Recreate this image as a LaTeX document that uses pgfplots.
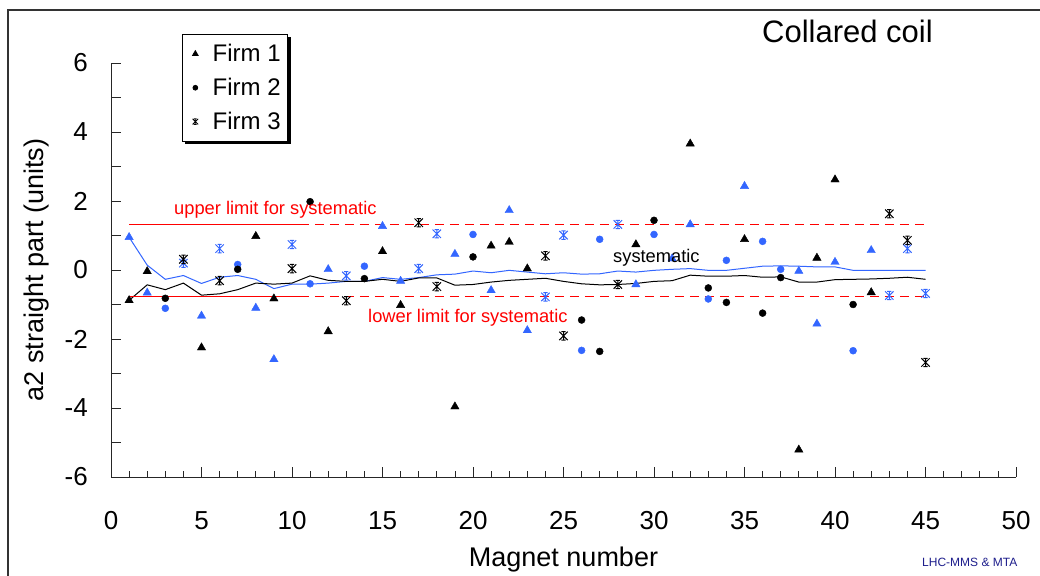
\documentclass[border=0pt]{standalone}
\usepackage{fontspec}
\setmainfont{Liberation Sans}
\usepackage{pgfplots}
\pgfplotsset{compat=1.18}
\usetikzlibrary{shadows}
\definecolor{xlblue}{RGB}{51,102,255}
\definecolor{xlred}{RGB}{255,0,0}
\definecolor{xlnavy}{RGB}{30,30,140}
\pgfdeclareplotmark{xlstar}{%
  \pgfpathmoveto{\pgfqpoint{-\pgfplotmarksize}{-\pgfplotmarksize}}%
  \pgfpathlineto{\pgfqpoint{\pgfplotmarksize}{\pgfplotmarksize}}%
  \pgfpathmoveto{\pgfqpoint{-\pgfplotmarksize}{\pgfplotmarksize}}%
  \pgfpathlineto{\pgfqpoint{\pgfplotmarksize}{-\pgfplotmarksize}}%
  \pgfpathmoveto{\pgfqpoint{0pt}{-\pgfplotmarksize}}%
  \pgfpathlineto{\pgfqpoint{0pt}{\pgfplotmarksize}}%
  \pgfpathmoveto{\pgfqpoint{-0.5\pgfplotmarksize}{\pgfplotmarksize}}%
  \pgfpathlineto{\pgfqpoint{0.5\pgfplotmarksize}{\pgfplotmarksize}}%
  \pgfpathmoveto{\pgfqpoint{-0.5\pgfplotmarksize}{-\pgfplotmarksize}}%
  \pgfpathlineto{\pgfqpoint{0.5\pgfplotmarksize}{-\pgfplotmarksize}}%
  \pgfusepathqstroke
}
\begin{document}
\begin{tikzpicture}
\path[use as bounding box, fill=white] (0,0) rectangle (1040pt,575pt);
\begin{axis}[
  scale only axis, width=905pt, height=414pt,
  at={(111pt,98pt)}, anchor=south west,
  xmin=0, xmax=50, ymin=-6, ymax=6,
  axis x line=bottom, axis y line=left,
  axis line style={-, line width=1pt, black!85},
  xtick={0,5,...,50}, minor xtick={1,...,49},
  ytick={-6,...,6}, yticklabels={-6,,-4,,-2,,0,,2,,4,,6},
  tick align=inside, major tick length=10pt, minor tick length=6pt,
  tick style={line width=0.8pt, black!85},
  /pgf/number format/assume math mode=true,
  ticklabel style={font=\fontsize{26}{30}\selectfont},
  xticklabel style={anchor=north, inner sep=0pt, yshift=-34pt},
  yticklabel style={anchor=east, inner sep=0pt, xshift=-23pt},
  xlabel={Magnet number},
  ylabel={a2 straight part (units)},
  label style={font=\fontsize{27}{32}\selectfont},
  xlabel style={at={(axis description cs:0.5,-0.215)}, anchor=base},
  ylabel style={at={(axis description cs:-0.0751,0.5)}, anchor=base},
  clip=false,
  legend cell align=left,
  legend image code/.code={%
    \path (-8.5pt,0pt) (14pt,0pt);
    \draw[#1] plot coordinates {(0pt,0pt)};},
  legend style={at={(rel axis cs:0.0785,1.0700)}, anchor=north west,
    draw=black, line width=0.8pt, fill=white,
    drop shadow={shadow xshift=3pt, shadow yshift=-3pt, opacity=1, fill=black},
    font=\fontsize{24}{28}\selectfont, inner xsep=4pt, inner ysep=8pt, row sep=11pt,
    nodes={inner xsep=3pt}},
]
% systematic lines
\addplot[forget plot, xlblue, line width=1pt, mark=none] coordinates {
(1,0.95) (2,0.14) (3,-0.27) (4,-0.16) (5,-0.39) (6,-0.21) (7,-0.16) (8,-0.27) (9,-0.54) (10,-0.41)
(11,-0.41) (12,-0.38) (13,-0.33) (14,-0.33) (15,-0.22) (16,-0.27) (17,-0.22) (18,-0.14) (19,-0.12) (20,-0.03)
(21,-0.08) (22,-0.01) (23,-0.06) (24,-0.11) (25,-0.08) (26,-0.12) (27,-0.11) (28,-0.03) (29,-0.06) (30,-0.01)
(31,0.02) (32,0.04) (33,-0.01) (34,-0.01) (35,0.05) (36,0.11) (37,0.12) (38,0.11) (39,0.09) (40,0.09)
(41,-0.01) (42,-0.01) (43,-0.01) (44,-0.01) (45,-0.01)};
\addplot[forget plot, black, line width=1pt, mark=none] coordinates {
(1,-0.88) (2,-0.43) (3,-0.57) (4,-0.38) (5,-0.73) (6,-0.69) (7,-0.57) (8,-0.38) (9,-0.41) (10,-0.38)
(11,-0.17) (12,-0.30) (13,-0.33) (14,-0.33) (15,-0.27) (16,-0.33) (17,-0.23) (18,-0.23) (19,-0.44) (20,-0.42)
(21,-0.35) (22,-0.30) (23,-0.27) (24,-0.24) (25,-0.33) (26,-0.40) (27,-0.43) (28,-0.42) (29,-0.39) (30,-0.33)
(31,-0.31) (32,-0.15) (33,-0.18) (34,-0.18) (35,-0.16) (36,-0.21) (37,-0.20) (38,-0.35) (39,-0.35) (40,-0.28)
(41,-0.27) (42,-0.26) (43,-0.24) (44,-0.21) (45,-0.27)};
% limits
\addplot[forget plot, draw=xlred, line width=1.3pt, mark=none] coordinates {(1,1.32) (10.44,1.32)};
\addplot[forget plot, draw=xlred, line width=1.3pt, mark=none, dash pattern=on 9pt off 6pt] coordinates {(10.44,1.32) (45,1.32)};
\addplot[forget plot, draw=xlred, line width=1.3pt, mark=none] coordinates {(1,-0.76) (10.44,-0.76)};
\addplot[forget plot, draw=xlred, line width=1.3pt, mark=none, dash pattern=on 9pt off 6pt] coordinates {(10.44,-0.76) (45,-0.76)};
% blue series
\addplot[forget plot, only marks, mark=triangle*, mark size=4.8, xlblue] coordinates {
(1,0.95) (2,-0.66) (5,-1.33) (8,-1.10) (9,-2.59) (12,0.02) (15,1.27) (16,-0.32) (19,0.46) (21,-0.59)
(22,1.73) (23,-1.75) (29,-0.42) (31,0.33) (32,1.32) (35,2.43) (38,-0.03) (39,-1.56) (40,0.23) (42,0.57)};
\addplot[forget plot, only marks, mark=*, mark size=3.5, xlblue] coordinates {
(3,-1.11) (7,0.16) (11,-0.40) (14,0.11) (20,1.03) (26,-2.33) (27,0.89) (30,1.03) (33,-0.84) (34,0.28)
(36,0.83) (37,0.02) (41,-2.34)};
\addplot[forget plot, only marks, mark=xlstar, mark size=4.2, line width=1pt, xlblue] coordinates {
(4,0.20) (6,0.62) (10,0.74) (13,-0.17) (17,0.04) (18,1.05) (24,-0.78) (25,1.01) (28,1.32) (43,-0.74)
(44,0.62) (45,-0.68)};
% black series
\addplot[forget plot, only marks, mark=triangle*, mark size=4.8, black] coordinates {
(1,-0.88) (2,-0.04) (5,-2.25) (8,0.98) (9,-0.83) (12,-1.78) (15,0.54) (16,-1.02) (19,-3.96) (21,0.70)
(22,0.81) (23,0.04) (29,0.74) (32,3.66) (35,0.89) (38,-5.21) (39,0.35) (40,2.62) (42,-0.65)};
\addplot[forget plot, only marks, mark=*, mark size=3.5, black] coordinates {
(3,-0.82) (7,0.02) (11,1.98) (14,-0.25) (20,0.38) (26,-1.45) (27,-2.36) (30,1.44) (33,-0.52) (34,-0.94)
(36,-1.25) (37,-0.22) (41,-1.00)};
\addplot[forget plot, only marks, mark=xlstar, mark size=4.2, line width=1pt, black] coordinates {
(4,0.31) (6,-0.31) (10,0.04) (13,-0.89) (17,1.37) (18,-0.48) (24,0.41) (25,-1.91) (28,-0.42) (43,1.63)
(44,0.86) (45,-2.68)};
\addlegendimage{only marks, mark=triangle*, mark size=3.2, black}
\addlegendentry{Firm 1}
\addlegendimage{only marks, mark=*, mark size=2.4, black}
\addlegendentry{Firm 2}
\addlegendimage{only marks, mark=xlstar, mark size=2.8, line width=0.8pt, black}
\addlegendentry{Firm 3}
\end{axis}
\draw[line width=1.3pt, black!80] (8pt,-20pt) -- (8pt,565pt) -- (1060pt,565pt);
\node[anchor=base west, inner sep=0pt, text=xlred, font=\fontsize{18.3}{22}\selectfont] at (174pt,360pt) {upper limit for systematic};
\node[anchor=base west, inner sep=0pt, text=xlred, font=\fontsize{18.3}{22}\selectfont] at (368pt,252pt) {lower limit for systematic};
\node[anchor=base west, inner sep=0pt, font=\fontsize{18.3}{22}\selectfont] at (613pt,312pt) {systematic};
\node[anchor=base west, inner sep=0pt, font=\fontsize{31}{36}\selectfont] at (762pt,532.5pt) {Collared coil};
\node[anchor=base west, inner sep=0pt, text=xlnavy, font=\fontsize{12}{14}\selectfont] at (922pt,9pt) {LHC-MMS \& MTA};
\end{tikzpicture}
\end{document}
